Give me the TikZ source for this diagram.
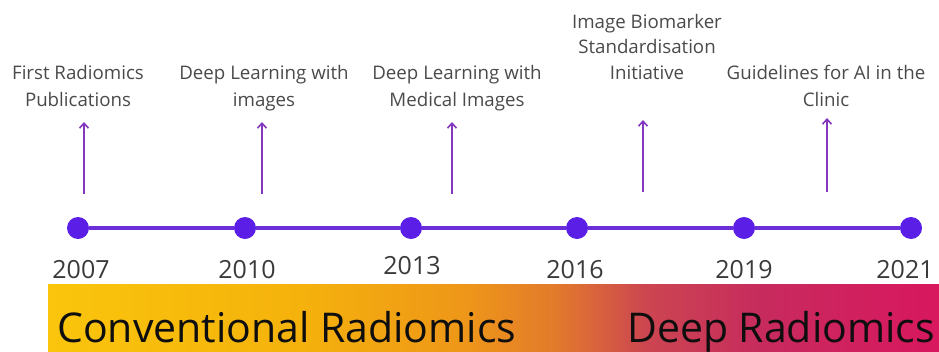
\documentclass[tikz,border=0pt]{standalone}
\usepackage{fontspec}
\setmainfont{Open Sans}
\usetikzlibrary{arrows.meta}
\definecolor{dotc}{HTML}{5B1EE6}
\definecolor{linec}{HTML}{6A2FD9}
\definecolor{arrc}{HTML}{8237BE}
\definecolor{labc}{HTML}{4A4A4A}
\definecolor{yearc}{HTML}{3A3A3A}
\definecolor{bandtxt}{HTML}{0E0E0E}
\definecolor{g1}{HTML}{FAC50C}
\definecolor{g2}{HTML}{F5B20C}
\definecolor{g3}{HTML}{EE9619}
\definecolor{g4}{HTML}{E27A2C}
\definecolor{g5}{HTML}{CC4650}
\definecolor{g6}{HTML}{C72B5E}
\definecolor{g7}{HTML}{D8175E}
\pgfdeclarehorizontalshading{bandshade}{100bp}{color(0bp)=(g1); color(25bp)=(g1); color(39bp)=(g2); color(48.5bp)=(g3); color(53.5bp)=(g4); color(58.5bp)=(g5); color(65bp)=(g6); color(75bp)=(g7); color(100bp)=(g7)}
\tikzset{
  dot/.style={circle, fill=dotc, minimum size=22pt, inner sep=0pt},
  evarrow/.style={draw=arrc, line width=1.8pt, -{Straight Barb[length=5pt,width=9pt,line width=1.6pt]}},
  evlabel/.style={text=labc, align=center, font=\fontsize{18.7}{27}\selectfont, inner sep=0pt},
  year/.style={text=yearc, font=\fontsize{25}{28}\selectfont, anchor=base, inner sep=0pt},
  bandlabel/.style={text=bandtxt, font=\fontsize{41}{45}\selectfont, anchor=base west, inner sep=0pt},
}
\begin{document}
\begin{tikzpicture}[x=1pt,y=-1pt]
\useasboundingbox (0,0) rectangle (939,351);
% gradient band
\shade[shading=bandshade] (48,284) rectangle (939,351);
\node[bandlabel] (conv) at (57,342) {Conventional Radiomics};
\node[bandlabel] (deep) at (627,342) {Deep Radiomics};
% timeline
\node[dot] (d1) at (78,228) {};
\node[dot] (d2) at (245,228) {};
\node[dot] (d3) at (411,228) {};
\node[dot] (d4) at (577,228) {};
\node[dot] (d5) at (744,228) {};
\node[dot] (d6) at (911,228) {};
\draw[linec, line width=3.5pt] (d1) -- (d2) -- (d3) -- (d4) -- (d5) -- (d6);
% years
\node[year] (y1) at (81,278) {2007};
\node[year] (y2) at (247,278) {2010};
\node[year] (y3) at (412,274) {2013};
\node[year] (y4) at (575,278) {2016};
\node[year] (y5) at (744,278) {2019};
\node[year] (y6) at (905,278) {2021};
% labels
\node[evlabel, anchor=north] (l1) at (78,65) {First Radiomics\\Publications};
\node[evlabel, anchor=north] (l2) at (264,65) {Deep Learning with\\images};
\node[evlabel, anchor=north] (l3) at (457,65) {Deep Learning with\\Medical Images};
\node[evlabel, anchor=north, font=\fontsize{18.7}{25.5}\selectfont] (l4) at (647,14) {Image Biomarker\\Standardisation\\Initiative};
\node[evlabel, anchor=north] (l5) at (826,65) {Guidelines for AI in the\\Clinic};
% arrows
\coordinate (a1b) at (84,194); \coordinate (a1t) at (84,122);
\coordinate (a2b) at (262,194); \coordinate (a2t) at (262,122);
\coordinate (a3b) at (452,194); \coordinate (a3t) at (452,122);
\coordinate (a4b) at (643,192); \coordinate (a4t) at (643,120);
\coordinate (a5b) at (827,192); \coordinate (a5t) at (827,118);
\draw[evarrow] (a1b) -- (a1t);
\draw[evarrow] (a2b) -- (a2t);
\draw[evarrow] (a3b) -- (a3t);
\draw[evarrow] (a4b) -- (a4t);
\draw[evarrow] (a5b) -- (a5t);
\end{tikzpicture}
\end{document}
